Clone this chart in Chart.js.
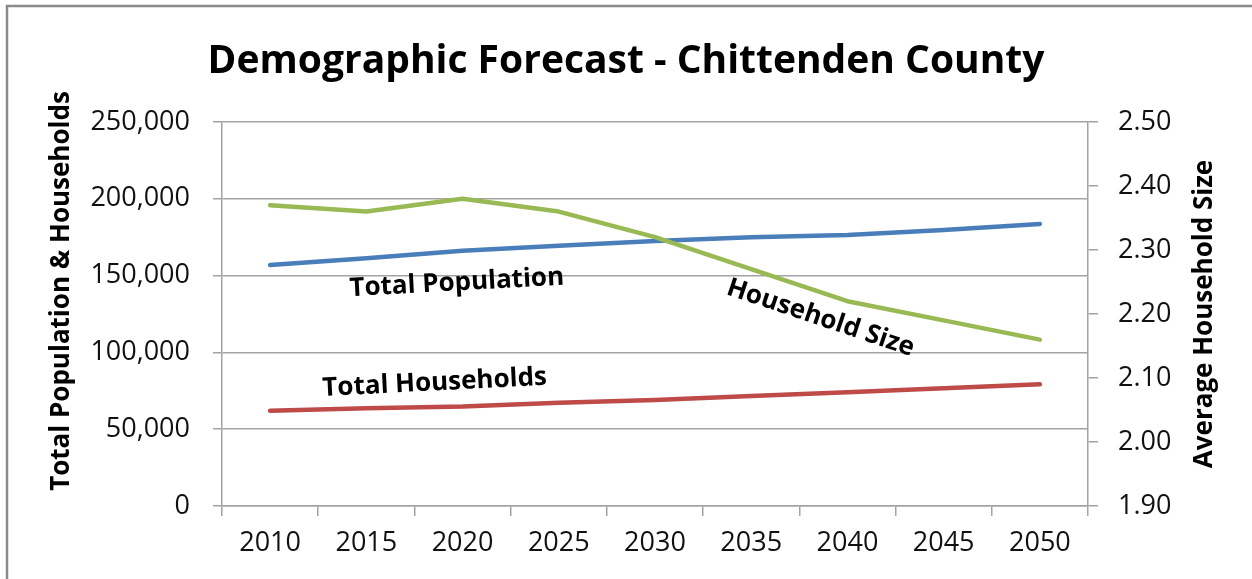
<!DOCTYPE html>
<html>
<head>
<meta charset="utf-8">
<script src="https://cdn.jsdelivr.net/npm/chart.js@4.4.1/dist/chart.umd.min.js"></script>
<style>
  html, body { margin: 0; padding: 0; background: #fff; }
  canvas { display: block; }
</style>
</head>
<body>
<canvas id="chart" width="1252" height="579"></canvas>
<script>
// Forecast years (category axis)
const years = ['2010', '2015', '2020', '2025', '2030', '2035', '2040', '2045', '2050'];

// Left axis series (people / households)
const totalPopulation = [156900, 161300, 166200, 169500, 172500, 174900, 176400, 179700, 183600];
const totalHouseholds = [62000, 63600, 64700, 67300, 69000, 71600, 74000, 76600, 79200];

// Right axis series (persons per household)
const householdSize = [2.37, 2.36, 2.38, 2.36, 2.32, 2.27, 2.22, 2.19, 2.16];

// Axis tick values
const countTicks = [0, 50000, 100000, 150000, 200000, 250000];
const sizeTicks = [1.90, 2.00, 2.10, 2.20, 2.30, 2.40, 2.50];

// Text
const chartTitle = 'Demographic Forecast - Chittenden County';
const leftAxisTitle = 'Total Population & Households';
const rightAxisTitle = 'Average Household Size';
const seriesNames = ['Total Population', 'Total Households', 'Household Size'];

const FONT = "'Open Sans', 'DejaVu Sans', sans-serif";
const GRID = '#a3a3a3';

// Inline series labels, placed in data space (category index, axis value)
const seriesTags = [
  { text: seriesNames[0], x: 1.94, y: 145200, axis: 'y', angle: -3.1 },
  { text: seriesNames[1], x: 1.71, y: 80100, axis: 'y', angle: -2.9 },
  { text: seriesNames[2], x: 5.72, y: 122400, axis: 'y', angle: 18.5 }
];

const framePlugin = {
  id: 'frame',
  beforeDraw(chart) {
    const ctx = chart.ctx;
    ctx.save();
    ctx.fillStyle = '#ffffff';
    ctx.fillRect(0, 0, chart.width, chart.height);
    ctx.strokeStyle = '#8a8a8a';
    ctx.lineWidth = 2.5;
    ctx.beginPath();
    ctx.moveTo(7, chart.height + 2);
    ctx.lineTo(7, 6);
    ctx.lineTo(chart.width + 2, 6);
    ctx.stroke();
    ctx.restore();
  }
};

const axisTitlePlugin = {
  id: 'axisTitles',
  afterDraw(chart, args, opts) {
    const ctx = chart.ctx;
    const area = chart.chartArea;
    const midY = (area.top + area.bottom) / 2;
    const draw = (text, x, y) => {
      ctx.save();
      ctx.fillStyle = '#000';
      ctx.font = 'bold 26px ' + FONT;
      ctx.textAlign = 'center';
      ctx.textBaseline = 'middle';
      ctx.translate(x, y);
      ctx.rotate(-Math.PI / 2);
      ctx.fillText(text, 0, 0);
      ctx.restore();
    };
    draw(leftAxisTitle, opts.leftX, midY + opts.leftShift);
    draw(rightAxisTitle, opts.rightX, midY + opts.rightShift);
  }
};

const seriesTagPlugin = {
  id: 'seriesTags',
  afterDatasetsDraw(chart) {
    const ctx = chart.ctx;
    const xs = chart.scales.x;
    seriesTags.forEach(t => {
      const px = xs.getPixelForValue(t.x);
      const py = chart.scales[t.axis].getPixelForValue(t.y);
      ctx.save();
      ctx.translate(px, py);
      ctx.rotate(t.angle * Math.PI / 180);
      ctx.font = 'bold 26px ' + FONT;
      ctx.fillStyle = '#000';
      ctx.textAlign = 'center';
      ctx.textBaseline = 'middle';
      ctx.fillText(t.text, 0, 0);
      ctx.restore();
    });
  }
};

new Chart(document.getElementById('chart'), {
  type: 'line',
  data: {
    labels: years,
    datasets: [
      { label: seriesNames[0], data: totalPopulation, yAxisID: 'y', borderColor: '#4a7ebb', order: 1 },
      { label: seriesNames[1], data: totalHouseholds, yAxisID: 'y', borderColor: '#be4b48', order: 2 },
      { label: seriesNames[2], data: householdSize, yAxisID: 'y1', borderColor: '#98b954', order: 0 }
    ]
  },
  options: {
    responsive: false,
    animation: false,
    devicePixelRatio: 1,
    layout: { padding: 0 },
    elements: {
      line: { borderWidth: 4.5, tension: 0, borderCapStyle: 'round', borderJoinStyle: 'round', fill: false },
      point: { radius: 0, hoverRadius: 0 }
    },
    plugins: {
      legend: { display: false },
      tooltip: { enabled: false },
      title: {
        display: true,
        text: chartTitle,
        color: '#000',
        font: { family: FONT, size: 39, weight: 'bold', lineHeight: 1.2 },
        padding: { top: 38.6, bottom: 36.6 }
      },
      axisTitles: { leftX: 62, leftShift: -23, rightX: 1205, rightShift: 0 }
    },
    scales: {
      x: {
        type: 'category',
        offset: true,
        grid: { offset: true, drawOnChartArea: false, drawTicks: true, tickLength: 10, color: GRID, lineWidth: 1.5 },
        border: { display: true, color: GRID, width: 1.5 },
        ticks: { color: '#111', font: { family: FONT, size: 27 }, padding: 11, maxRotation: 0, autoSkip: false },
        afterFit(s) { s.height = 579 - 506; }
      },
      y: {
        position: 'left',
        min: countTicks[0],
        max: countTicks[countTicks.length - 1],
        afterBuildTicks(s) { s.ticks = countTicks.map(v => ({ value: v })); },
        grid: { drawOnChartArea: true, drawTicks: true, tickLength: 9, color: GRID, lineWidth: 1.5 },
        border: { display: true, color: GRID, width: 1.5 },
        ticks: {
          color: '#111',
          font: { family: FONT, size: 27 },
          padding: 23,
          callback: v => Number(v).toLocaleString('en-US')
        },
        afterFit(s) { s.width = 222; }
      },
      y1: {
        position: 'right',
        min: sizeTicks[0],
        max: sizeTicks[sizeTicks.length - 1],
        afterBuildTicks(s) { s.ticks = sizeTicks.map(v => ({ value: v })); },
        grid: { drawOnChartArea: false, drawTicks: true, tickLength: 10, color: GRID, lineWidth: 1.5 },
        border: { display: true, color: GRID, width: 1.5 },
        ticks: {
          color: '#111',
          font: { family: FONT, size: 27 },
          padding: 20,
          callback: v => Number(v).toFixed(2)
        },
        afterFit(s) { s.width = 1252 - 1088; }
      }
    }
  },
  plugins: [framePlugin, axisTitlePlugin, seriesTagPlugin]
});
</script>
</body>
</html>
